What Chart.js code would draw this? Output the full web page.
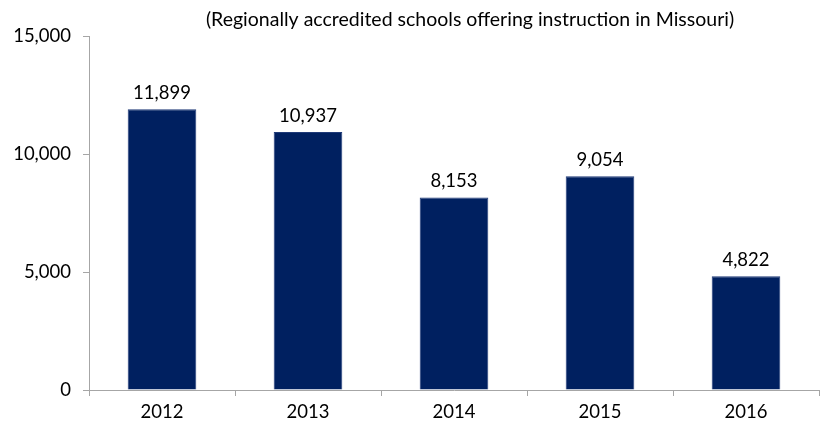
<!DOCTYPE html>
<html>
<head>
<meta charset="utf-8">
<script src="https://cdn.jsdelivr.net/npm/chart.js@4.4.0/dist/chart.umd.min.js"></script>
<style>
  html, body { margin: 0; padding: 0; background: #fff; }
  #wrap { width: 820px; height: 428px; }
</style>
</head>
<body>
<div id="wrap"><canvas id="chart"></canvas></div>
<script>
// ===== Data =====
const years = ['2012', '2013', '2014', '2015', '2016'];
const schools = [11899, 10937, 8153, 9054, 4822];
const yTicks = [0, 5000, 10000, 15000];
const subtitle = '(Regionally accredited schools offering instruction in Missouri)';

const FONT = 'Lato, "Open Sans", sans-serif';
const axisGrey = '#a6a6a6';
const fmt = v => v.toLocaleString('en-US');

// value labels above each bar
const barLabels = {
    id: 'barLabels',
    afterDatasetsDraw(chart) {
        const ctx = chart.ctx;
        const meta = chart.getDatasetMeta(0);
        ctx.save();
        ctx.font = '18.5px ' + FONT;
        ctx.fillStyle = '#000';
        ctx.textAlign = 'center';
        ctx.textBaseline = 'bottom';
        meta.data.forEach((bar, i) => {
            ctx.fillText(fmt(schools[i]), bar.x, bar.y - 7);
        });
        ctx.restore();
    }
};

// subtitle line at the top
const topNote = {
    id: 'topNote',
    afterDraw(chart) {
        const ctx = chart.ctx;
        const area = chart.chartArea;
        ctx.save();
        ctx.font = '19.5px ' + FONT;
        ctx.fillStyle = '#000';
        ctx.textAlign = 'center';
        ctx.textBaseline = 'middle';
        ctx.fillText(subtitle, (area.left + area.right) / 2 + 16, 20);
        ctx.restore();
    }
};

new Chart(document.getElementById('chart'), {
    type: 'bar',
    data: {
        labels: years,
        datasets: [{
            data: schools,
            backgroundColor: '#002060',
            borderColor: '#1f3a78',
            borderWidth: 1,
            categoryPercentage: 1,
            barPercentage: 0.47
        }]
    },
    options: {
        responsive: true,
        maintainAspectRatio: false,
        animation: false,
        layout: { padding: { top: 36, right: 1, left: 0, bottom: 0 } },
        plugins: {
            legend: { display: false },
            tooltip: { enabled: false }
        },
        scales: {
            x: {
                afterFit: axis => { axis.height = 38; },
                grid: { offset: true, drawOnChartArea: false, drawTicks: true, tickLength: 6, color: axisGrey },
                border: { color: axisGrey },
                ticks: { color: '#000', font: { family: FONT, size: 18.5 }, padding: 5 }
            },
            y: {
                min: 0,
                max: 15000,
                afterBuildTicks: axis => { axis.ticks = yTicks.map(v => ({ value: v })); },
                afterFit: axis => { axis.width = 89; },
                grid: { drawOnChartArea: false, drawTicks: true, tickLength: 6, color: axisGrey },
                border: { color: axisGrey },
                ticks: { color: '#000', font: { family: FONT, size: 18.5 }, padding: 12, callback: v => fmt(v) }
            }
        }
    },
    plugins: [barLabels, topNote]
});
</script>
</body>
</html>
